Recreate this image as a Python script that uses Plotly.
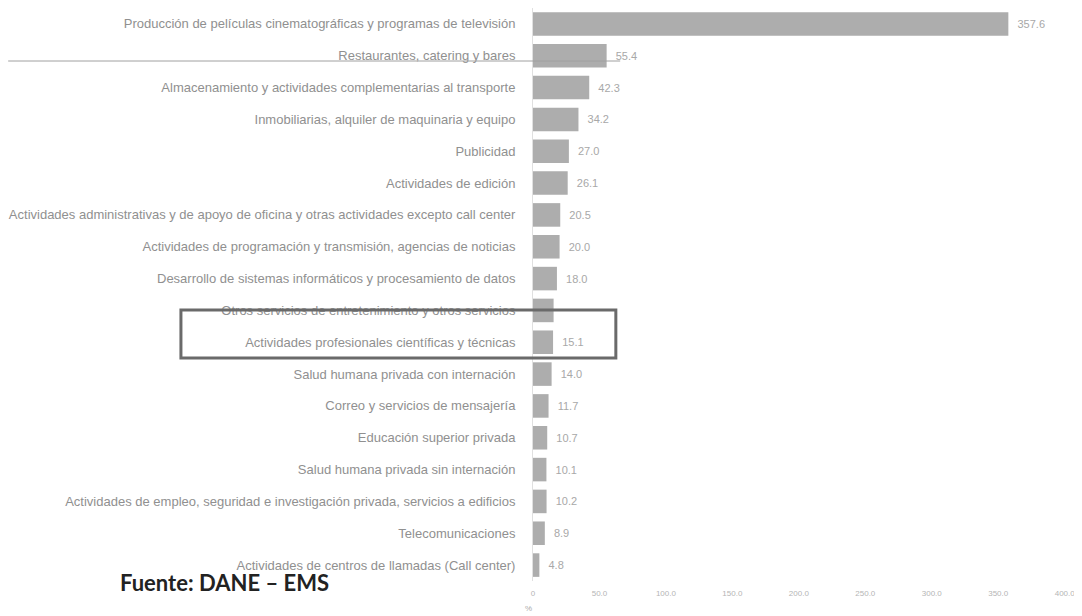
import plotly.graph_objects as go

GRAY_TEXT = "#909090"
BAR = "#adadad"

categorias = [
    "Producción de películas cinematográficas y programas de televisión",
    "Restaurantes, catering y bares",
    "Almacenamiento y actividades complementarias al transporte",
    "Inmobiliarias, alquiler de maquinaria y equipo",
    "Publicidad",
    "Actividades de edición",
    "Actividades administrativas y de apoyo de oficina y otras actividades excepto call center",
    "Actividades de programación y transmisión, agencias de noticias",
    "Desarrollo de sistemas informáticos y procesamiento de datos",
    "Otros servicios de entretenimiento y otros servicios",
    "Actividades profesionales científicas y técnicas",
    "Salud humana privada con internación",
    "Correo y servicios de mensajería",
    "Educación superior privada",
    "Salud humana privada sin internación",
    "Actividades de empleo, seguridad e investigación privada, servicios a edificios",
    "Telecomunicaciones",
    "Actividades de centros de llamadas (Call center)",
]
valores = [357.6, 55.4, 42.3, 34.2, 27.0, 26.1, 20.5, 20.0, 18.0, 15.5,
           15.1, 14.0, 11.7, 10.7, 10.1, 10.2, 8.9, 4.8]
etiquetas = ["  %.1f" % v for v in valores]
etiquetas[9] = ""
ticks = [0, 50, 100, 150, 200, 250, 300, 350, 400]
tick_text = ["0"] + ["%.1f" % t for t in ticks[1:]]

fig = go.Figure(go.Bar(
    x=valores, y=categorias, orientation="h",
    marker=dict(color=BAR, line=dict(width=0)),
    text=etiquetas, textposition="outside", cliponaxis=False,
    textfont=dict(size=11, color="#a8a8a8"),
))

# the page puts the figure 8px in from the top-left corner
fig.update_layout(
    width=1074, height=608,
    paper_bgcolor="white", plot_bgcolor="white",
    font=dict(family="Liberation Sans, Arial", size=12, color=GRAY_TEXT),
    margin=dict(l=525, r=4, t=0, b=35),
    bargap=0.26,
    showlegend=False,
    xaxis=dict(range=[0, 410], tickvals=ticks, ticktext=tick_text,
               showgrid=False, zeroline=False, showline=False,
               automargin=False, ticklabelstandoff=6,
               tickfont=dict(size=8, color="#b5b5b5")),
    yaxis=dict(autorange="reversed", showgrid=False, showline=True,
               linecolor="#e0e0e0", linewidth=1, ticks="", ticklabelstandoff=14,
               automargin=False, tickfont=dict(size=13, color=GRAY_TEXT)),
)

# highlight box around "Actividades profesionales"
fig.add_shape(type="rect", xref="paper", yref="paper",
              x0=-0.646, x1=0.152, y0=0.389, y1=0.473,
              line=dict(color="#6a6a6a", width=3))
# scan line across the top
fig.add_shape(type="line", xref="paper", yref="paper",
              x0=-0.963, x1=0.16, y0=0.9075, y1=0.9075,
              line=dict(color="#a0a0a0", width=1))

fig.add_annotation(text="<b>Fuente: DANE – EMS</b>", xref="paper", yref="paper",
                   x=-0.761, y=-0.002, xanchor="left", yanchor="middle",
                   showarrow=False, font=dict(family="Lato, Open Sans", size=22, color="#222222"))
fig.add_annotation(text="%", xref="paper", yref="paper", x=-0.018, y=-0.06,
                   showarrow=False, font=dict(size=8, color="#aaaaaa"))

fig.write_html("out.html")
